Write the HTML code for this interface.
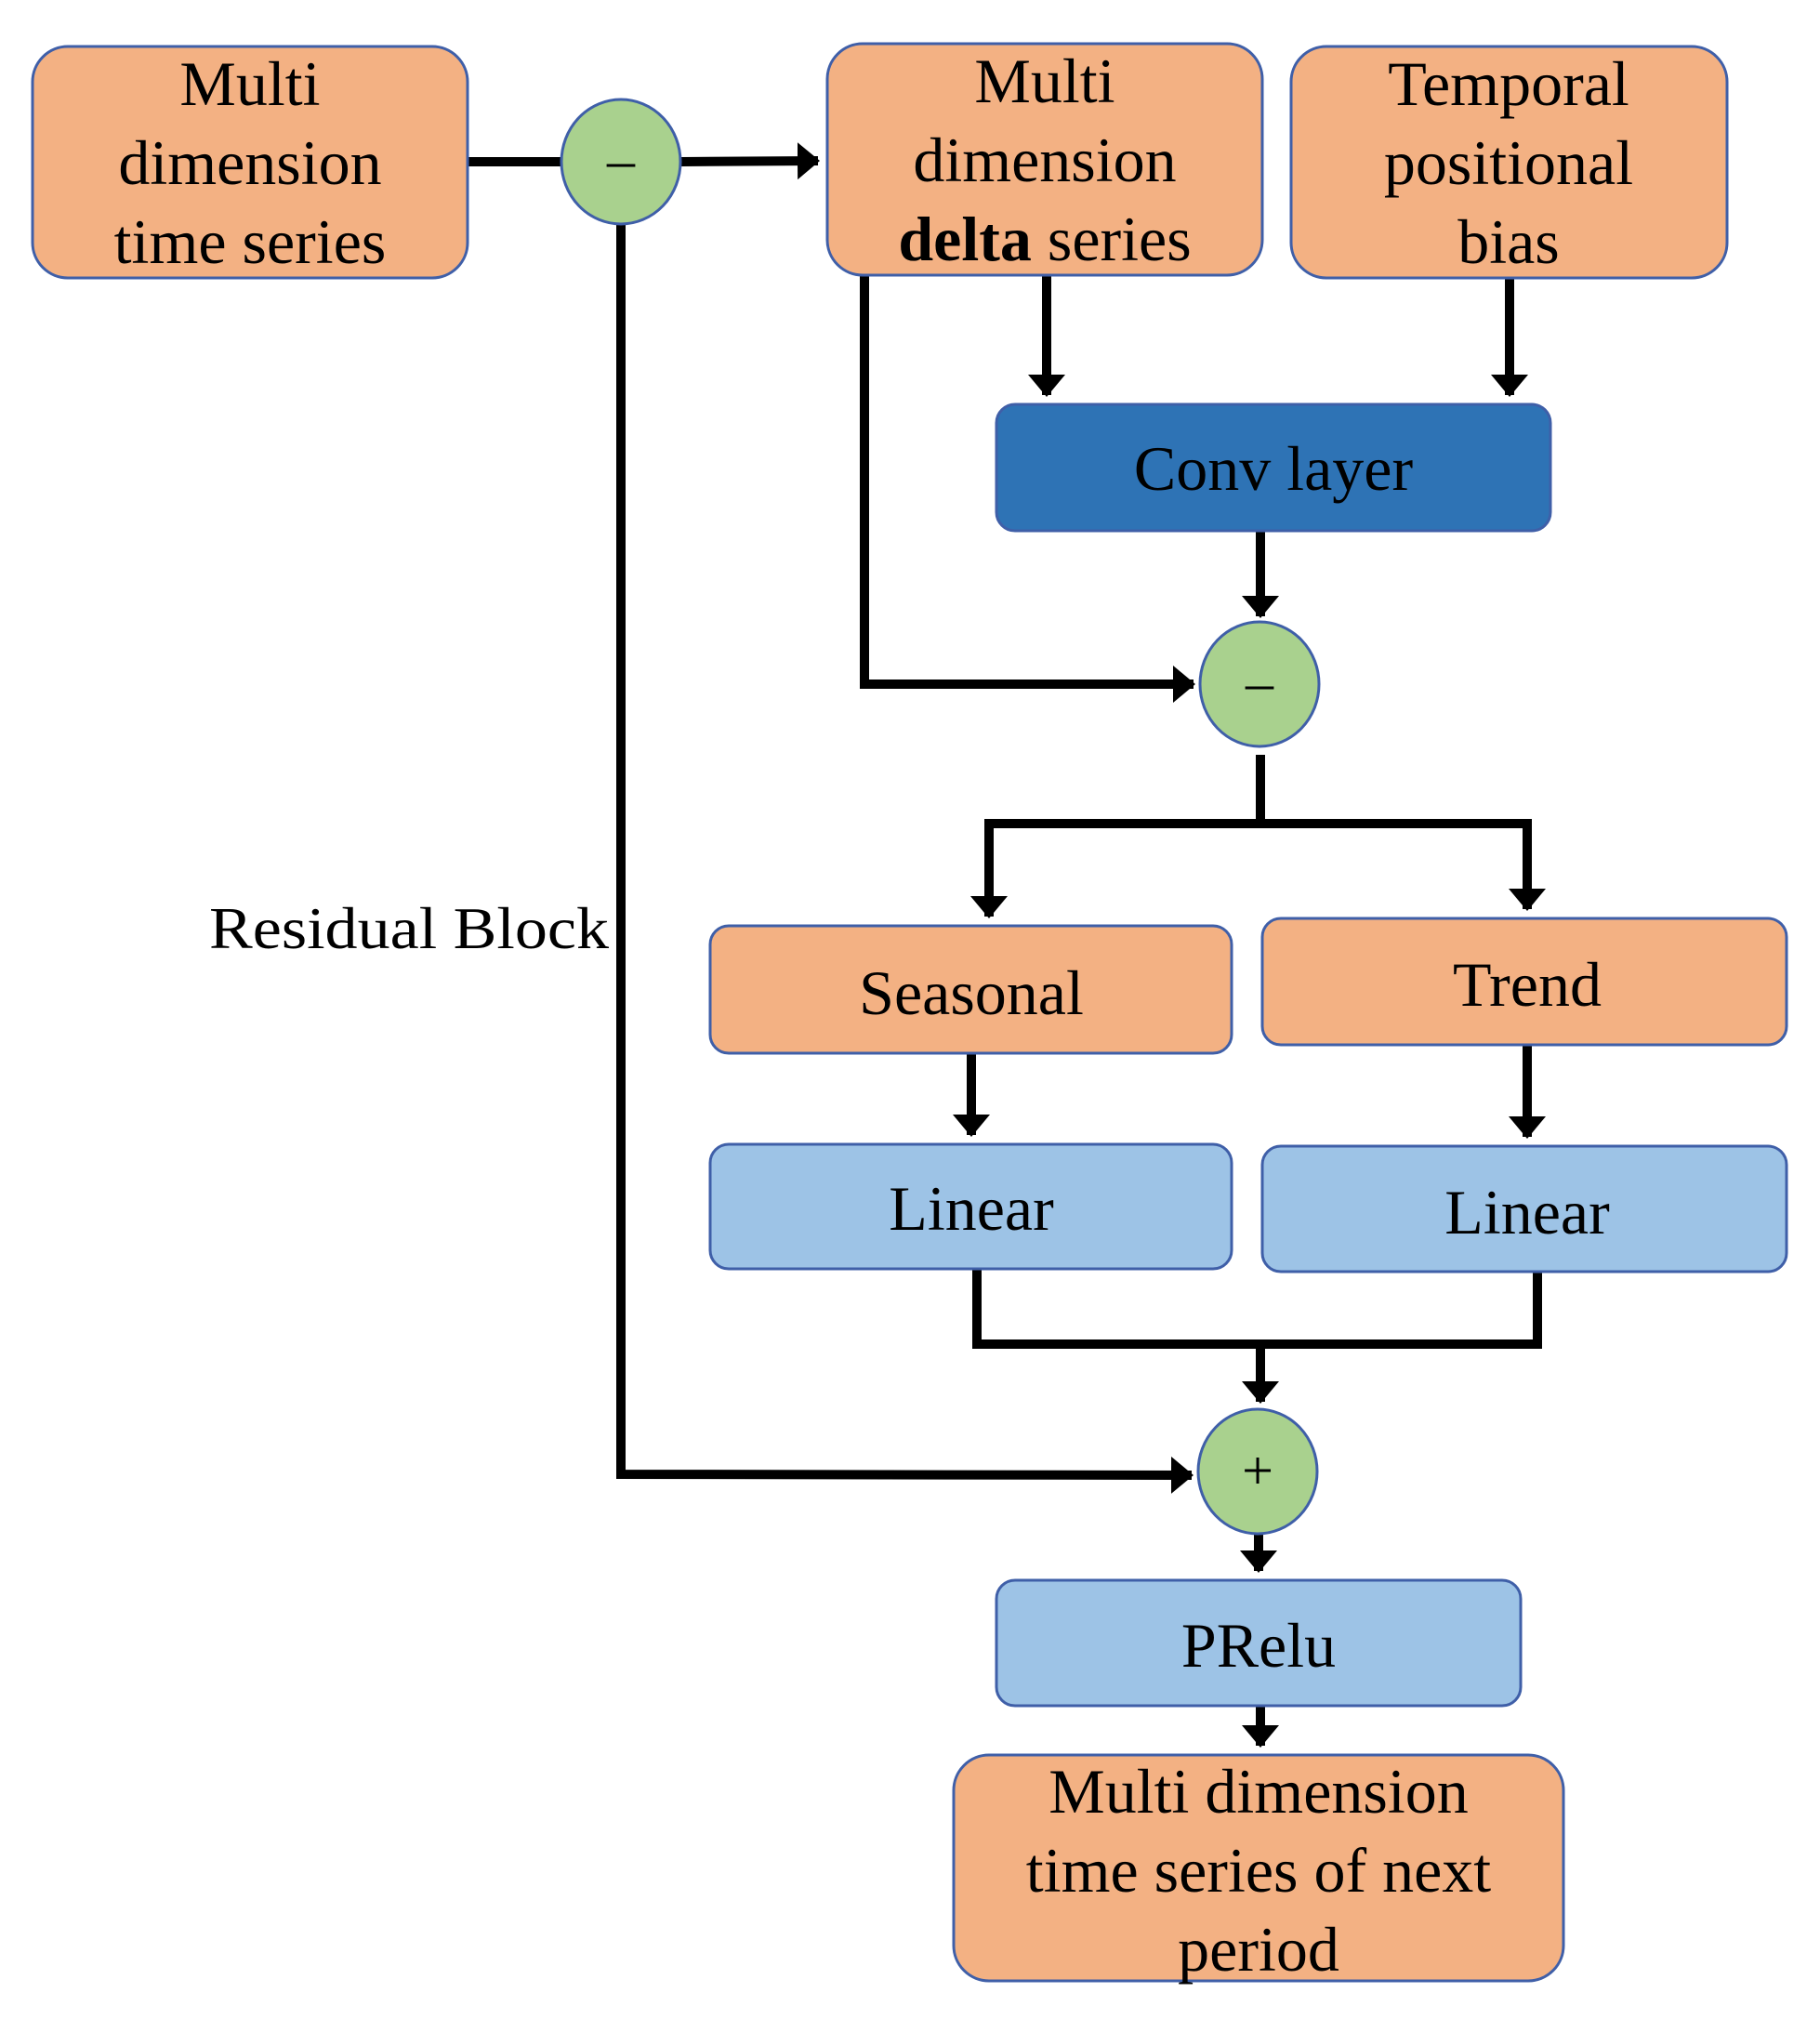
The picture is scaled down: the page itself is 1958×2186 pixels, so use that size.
<!DOCTYPE html>
<html><head><style>html,body{margin:0;padding:0;background:#fff}svg{display:block}</style></head>
<body>
<svg width="1958" height="2186" viewBox="0 0 1958 2186" xmlns="http://www.w3.org/2000/svg" font-family="'Liberation Serif', serif">
<defs>
<marker id="a" markerWidth="4" markerHeight="4" refX="2.2" refY="2" orient="auto" markerUnits="strokeWidth">
<path d="M0,0 L2.4,2 L0,4 z" fill="#000"/></marker>
</defs>
<g stroke="#000" stroke-width="10" fill="none">
<line x1="503" y1="174" x2="605" y2="174"/>
<line x1="733" y1="174" x2="880" y2="173" marker-end="url(#a)"/>
<polyline points="668,238 668,1586 1282,1587" marker-end="url(#a)"/>
<polyline points="930,296 930,736 1284,736" marker-end="url(#a)"/>
<line x1="1126" y1="296" x2="1126" y2="425" marker-end="url(#a)"/>
<line x1="1624" y1="299" x2="1624" y2="425" marker-end="url(#a)"/>
<line x1="1356" y1="571" x2="1356" y2="663" marker-end="url(#a)"/>
<line x1="1356" y1="812" x2="1356" y2="886"/>
<polyline points="1351,886 1064,886 1064,986" marker-end="url(#a)"/>
<polyline points="1351,886 1643,886 1643,978" marker-end="url(#a)"/>
<line x1="1045" y1="1133" x2="1045" y2="1221" marker-end="url(#a)"/>
<line x1="1643" y1="1124" x2="1643" y2="1223" marker-end="url(#a)"/>
<polyline points="1051,1365 1051,1446 1654,1446 1654,1368"/>
<line x1="1356" y1="1446" x2="1356" y2="1508" marker-end="url(#a)"/>
<line x1="1354" y1="1649" x2="1354" y2="1690" marker-end="url(#a)"/>
<line x1="1356" y1="1835" x2="1356" y2="1878" marker-end="url(#a)"/>
</g>
<g stroke="#3f5fa8" stroke-width="3">
<rect x="35" y="50" width="468" height="249" rx="38" fill="#f3b183"/>
<rect x="890" y="47" width="468" height="249" rx="38" fill="#f3b183"/>
<rect x="1389" y="50" width="469" height="249" rx="38" fill="#f3b183"/>
<rect x="1072" y="435" width="596" height="136" rx="20" fill="#2e73b5"/>
<rect x="764" y="996" width="561" height="137" rx="20" fill="#f3b183"/>
<rect x="1358" y="988" width="564" height="136" rx="20" fill="#f3b183"/>
<rect x="764" y="1231" width="561" height="134" rx="20" fill="#9dc3e6"/>
<rect x="1358" y="1233" width="564" height="135" rx="20" fill="#9dc3e6"/>
<rect x="1072" y="1700" width="564" height="135" rx="20" fill="#9dc3e6"/>
<rect x="1026" y="1888" width="656" height="243" rx="38" fill="#f3b183"/>
<ellipse cx="668" cy="174" rx="64" ry="67" fill="#a9d18e"/>
<ellipse cx="1355" cy="736" rx="64" ry="67" fill="#a9d18e"/>
<ellipse cx="1353" cy="1583" rx="64" ry="67" fill="#a9d18e"/>
</g>
<g font-size="68" text-anchor="middle" fill="#000">
<text x="269" y="113">Multi</text>
<text x="269" y="198">dimension</text>
<text x="269" y="283">time series</text>
<text x="1124" y="110">Multi</text>
<text x="1124" y="195">dimension</text>
<text x="1124" y="280"><tspan font-weight="bold">delta</tspan> series</text>
<text x="1623" y="113">Temporal</text>
<text x="1623" y="198">positional</text>
<text x="1623" y="283">bias</text>
<text x="1370" y="527">Conv layer</text>
<text x="1045" y="1091">Seasonal</text>
<text x="1643" y="1082">Trend</text>
<text x="1045" y="1323">Linear</text>
<text x="1643" y="1327">Linear</text>
<text x="1354" y="1793">PRelu</text>
<text x="1354" y="1950">Multi dimension</text>
<text x="1354" y="2035">time series of next</text>
<text x="1354" y="2120">period</text>
<text x="668" y="192" font-size="60">–</text>
<text x="1355" y="754" font-size="60">–</text>
<text x="1353" y="1602" font-size="60">+</text>
</g>
<text x="225" y="1020" font-size="64" fill="#000" textLength="430" lengthAdjust="spacingAndGlyphs">Residual Block</text>
</svg>
</body></html>
